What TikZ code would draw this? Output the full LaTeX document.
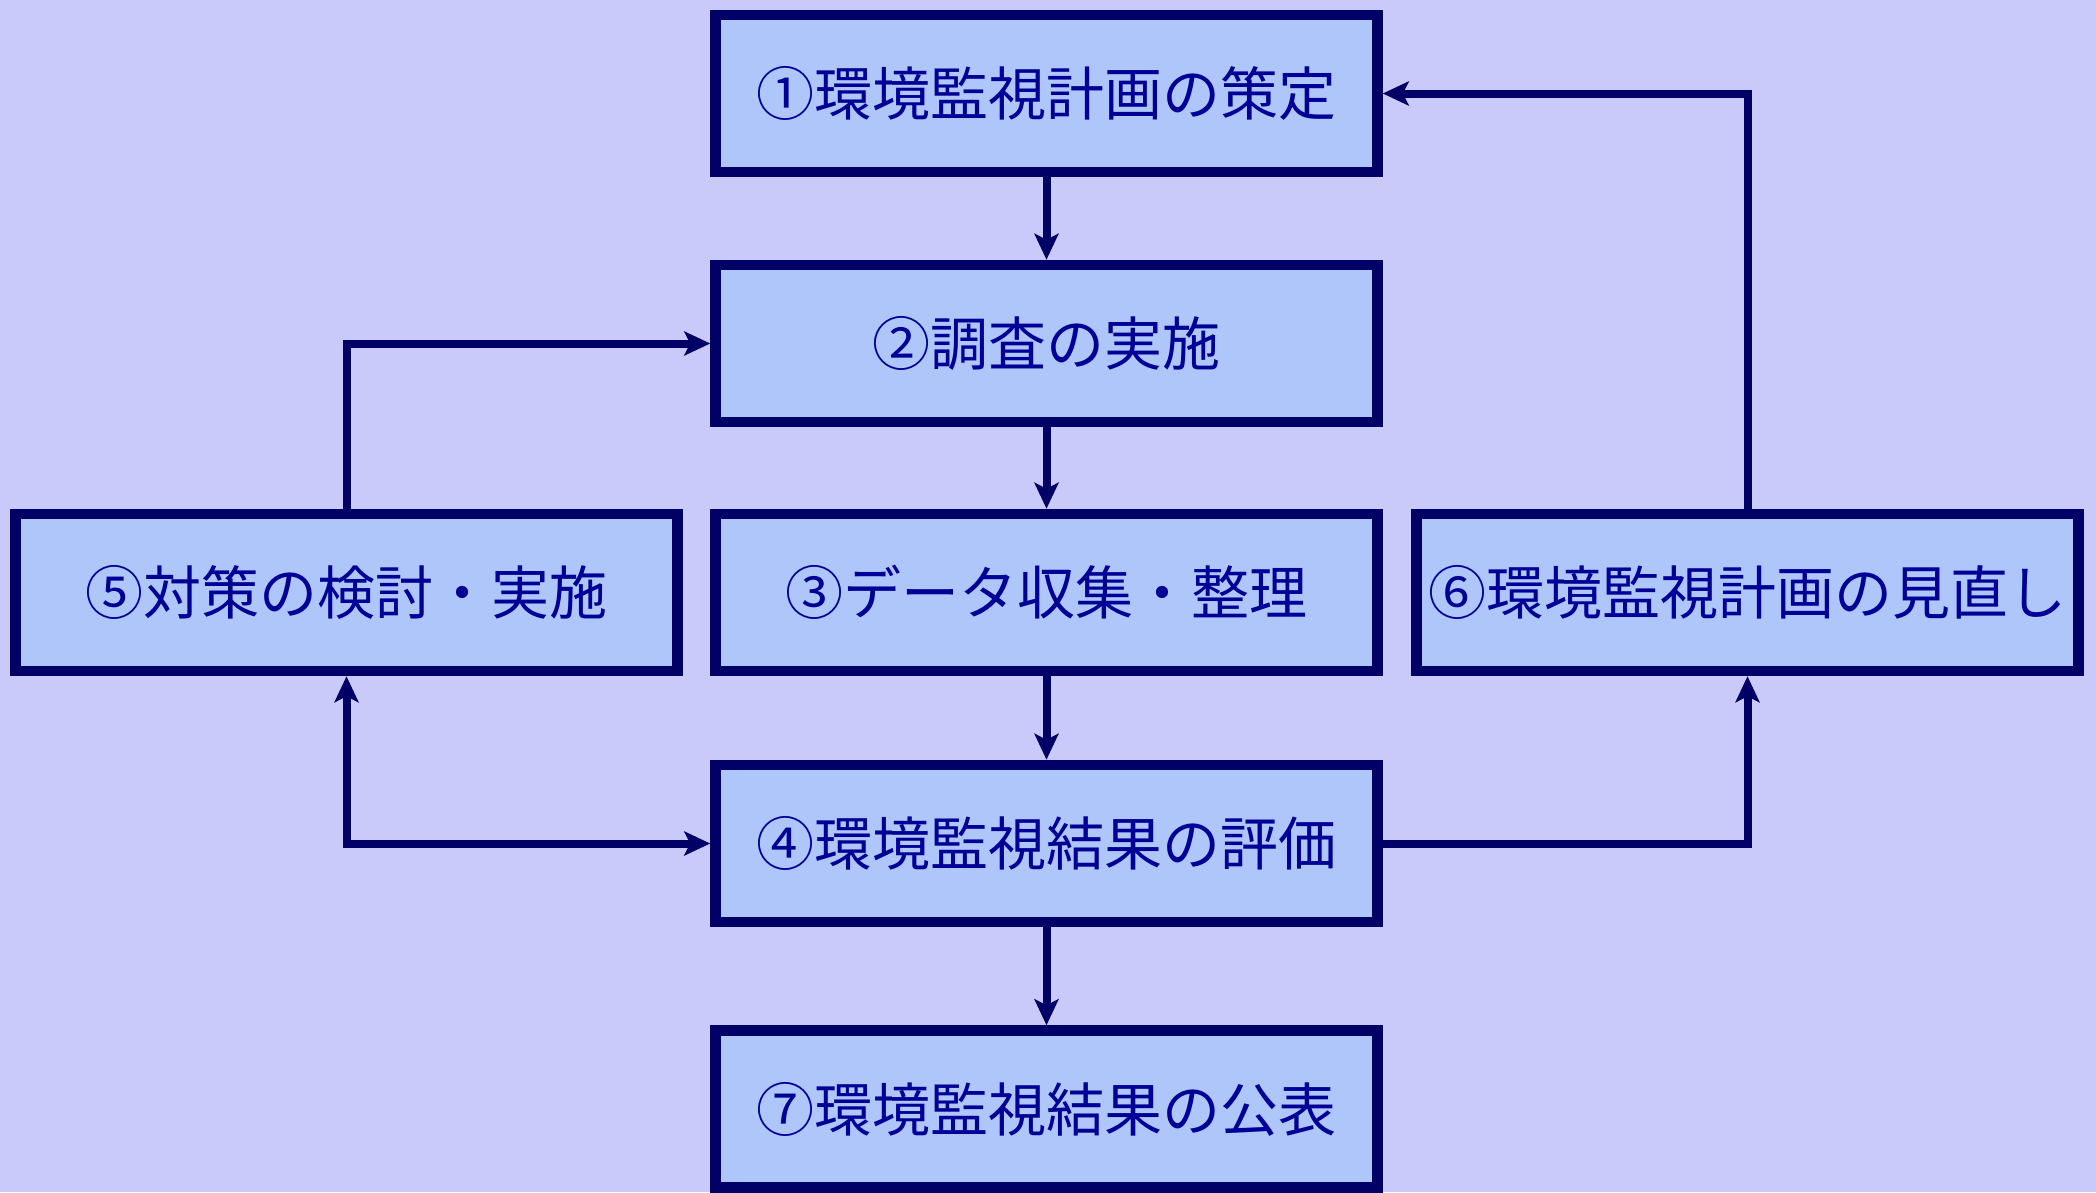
\documentclass[tikz,border=0pt]{standalone}
\usepackage{fontspec}
\newfontfamily\jpfont{Noto Sans CJK JP}
\usetikzlibrary{arrows.meta}
\definecolor{bgcol}{RGB}{202,202,250}
\definecolor{boxfill}{RGB}{174,198,250}
\definecolor{boxline}{RGB}{0,0,102}
\definecolor{txtcol}{RGB}{0,0,150}
\tikzset{
  flowbox/.style={draw=boxline, line width=10.5pt, fill=boxfill, rectangle,
    minimum width=662pt, minimum height=157pt, inner sep=0pt,
    text=txtcol, font=\jpfont\fontsize{58}{60}\selectfont},
  flowarrow/.style={draw=boxline, line width=8pt,
    -{Stealth[length=26pt,width=24pt,inset=6pt]}},
  flowarrowboth/.style={draw=boxline, line width=8pt,
    {Stealth[length=26pt,width=24pt,inset=6pt]}-{Stealth[length=26pt,width=24pt,inset=6pt]}}
}
\begin{document}
\begin{tikzpicture}[x=1pt,y=-1pt]
\fill[bgcol] (0,0) rectangle (2096,1192);
\useasboundingbox (0,0) rectangle (2096,1192);
\node[flowbox] (b1) at (1046.5,93.5) {①環境監視計画の策定};
\node[flowbox] (b2) at (1046.5,343.5) {②調査の実施};
\node[flowbox] (b3) at (1046.5,592.5) {③データ収集・整理};
\node[flowbox] (b4) at (1046.5,843.5) {④環境監視結果の評価};
\node[flowbox] (b7) at (1046.5,1109) {⑦環境監視結果の公表};
\node[flowbox] (b5) at (346.5,592.5) {⑤対策の検討・実施};
\node[flowbox] (b6) at (1747.5,592.5) {⑥環境監視計画の見直し};
\draw[flowarrow] (b1) -- (b2);
\draw[flowarrow] (b2) -- (b3);
\draw[flowarrow] (b3) -- (b4);
\draw[flowarrow] (b4) -- (b7);
\draw[flowarrow] (b5.north) |- (b2.west);
\draw[flowarrowboth] (b5.south) |- (b4.west);
\draw[flowarrow] (b4.east) -| (b6.south);
\draw[flowarrow] (b6.north) |- (b1.east);
\end{tikzpicture}
\end{document}
